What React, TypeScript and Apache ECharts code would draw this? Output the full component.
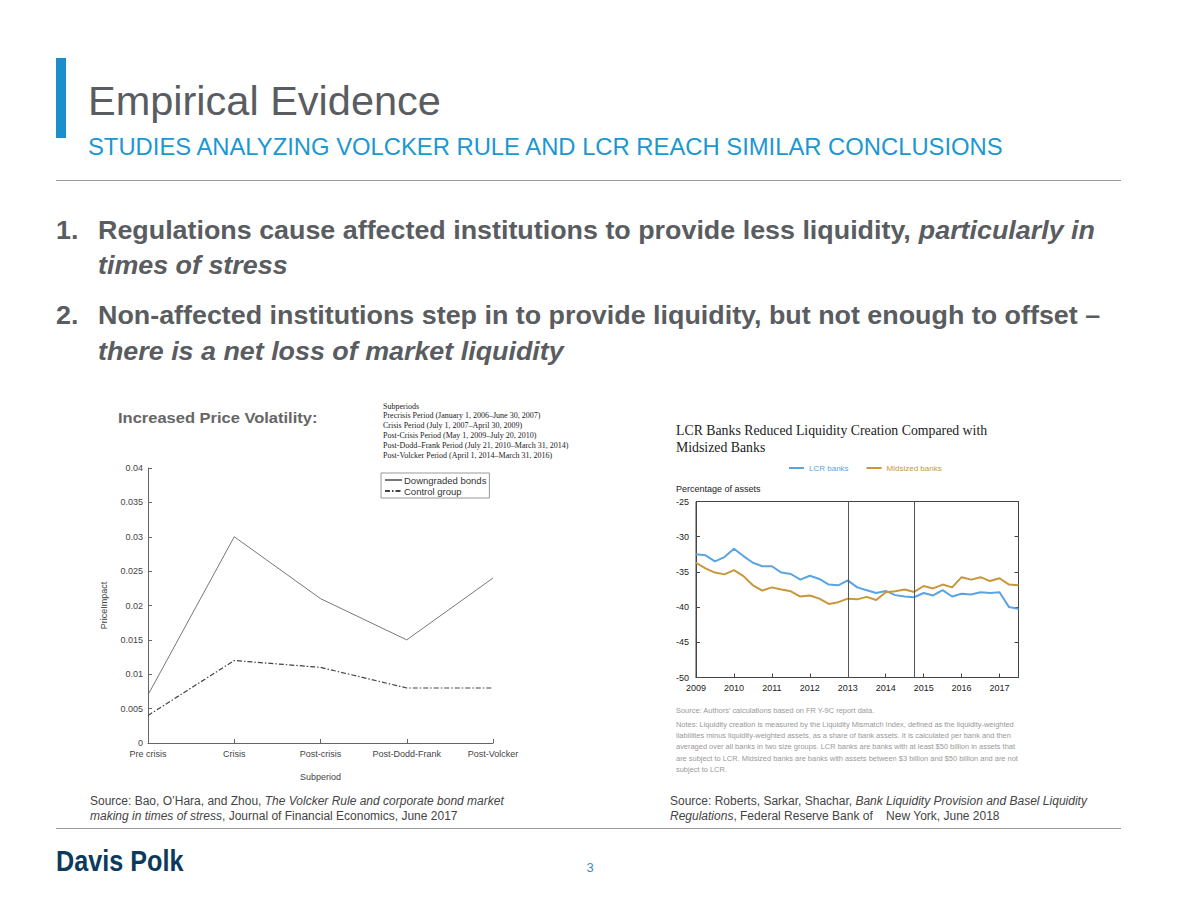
import React, { useEffect, useRef } from 'react';
import * as echarts from 'echarts';

// ---------- Left chart data ----------
const subperiods = ['Pre crisis', 'Crisis', 'Post-crisis', 'Post-Dodd-Frank', 'Post-Volcker'];
const downgradedBonds = [0.007, 0.030, 0.021, 0.015, 0.024];
const controlGroup = [0.004, 0.012, 0.011, 0.008, 0.008];
const priceTicks = { min: 0, max: 0.04, interval: 0.005 };

// ---------- Right chart data ----------
const years = ['2009', '2010', '2011', '2012', '2013', '2014', '2015', '2016', '2017'];
const quarterNames = ['Q1', 'Q2', 'Q3', 'Q4'];
const quarters: string[] = [];
years.forEach((y) => quarterNames.forEach((q) => quarters.push(y + q)));
const quarterCats = quarters.slice(0, 35);
const lcrBanks = [
  -32.5, -32.65, -33.5, -32.9, -31.7, -32.75, -33.7, -34.2, -34.2, -35.1,
  -35.3, -36.1, -35.55, -36.0, -36.8, -36.9, -36.2, -37.2, -37.6, -38.0,
  -37.7, -38.3, -38.5, -38.6, -38.0, -38.35, -37.6, -38.5, -38.1, -38.2,
  -37.9, -38.0, -37.9, -40.0, -40.25,
];
const midsizedBanks = [
  -33.7, -34.5, -35.1, -35.35, -34.75, -35.6, -36.9, -37.65, -37.2, -37.5,
  -37.75, -38.5, -38.35, -38.8, -39.55, -39.3, -38.8, -38.9, -38.55, -39.0,
  -37.9, -37.75, -37.5, -37.85, -37.0, -37.35, -36.8, -37.2, -35.75, -36.1,
  -35.75, -36.3, -35.9, -36.8, -36.9,
];
const regimeLines = ['2013Q1', '2014Q4'];
const pctTicks = { min: -50, max: -25, interval: 5 };

// ---------- Text ----------
const titleText = 'Empirical Evidence';
const subtitleText = 'STUDIES ANALYZING VOLCKER RULE AND LCR REACH SIMILAR CONCLUSIONS';
const subperiodLines = [
  'Subperiods',
  'Precrisis Period (January 1, 2006\u2013June 30, 2007)',
  'Crisis Period (July 1, 2007\u2013April 30, 2009)',
  'Post-Crisis Period (May 1, 2009\u2013July 20, 2010)',
  'Post-Dodd\u2013Frank Period (July 21, 2010\u2013March 31, 2014)',
  'Post-Volcker Period (April 1, 2014\u2013March 31, 2016)',
];
const notesLines = [
  'Notes: Liquidity creation is measured by the Liquidity Mismatch Index, defined as the liquidity-weighted',
  'liabilities minus liquidity-weighted assets, as a share of bank assets. It is calculated per bank and then',
  'averaged over all banks in two size groups. LCR banks are banks with at least $50 billion in assets that',
  'are subject to LCR. Midsized banks are banks with assets between $3 billion and $50 billion and are not',
  'subject to LCR.',
];

const SANS = '"Liberation Sans", Arial, sans-serif';
const SERIF = '"Liberation Serif", "Times New Roman", serif';
const GRAY = '#595c60';
const BLUE_HDR = '#1b97d2';
const LCR_COLOR = '#5ba4e1';
const MID_COLOR = '#c9973a';

function txt(text: string, x: number, y: number, opts: any = {}) {
  const { scaleX, ...style } = opts;
  return {
    type: 'text',
    x,
    y,
    scaleX: scaleX ?? 1,
    silent: true,
    style: {
      text,
      fontFamily: SANS,
      fontSize: 12,
      fill: '#333',
      align: 'left',
      verticalAlign: 'middle',
      textAlign: 'left',
      textVerticalAlign: 'middle',
      ...style,
    },
  };
}

function rich(text: string, x: number, y: number, richStyles: any, scaleX = 1) {
  return {
    type: 'text',
    x,
    y,
    scaleX,
    silent: true,
    style: {
      text,
      rich: richStyles,
      align: 'left',
      verticalAlign: 'middle',
      textAlign: 'left',
      textVerticalAlign: 'middle',
    },
  };
}

export default function App() {
  const ref = useRef<HTMLDivElement>(null);

  useEffect(() => {
    if (!ref.current) return;
    const chart = echarts.init(ref.current, null, { renderer: 'svg' });

    const bulletRich = {
      b: { fontFamily: SANS, fontSize: 25, fontWeight: 'bold', fill: GRAY, color: GRAY },
      bi: { fontFamily: SANS, fontSize: 25, fontWeight: 'bold', fontStyle: 'italic', fill: GRAY, color: GRAY },
    };
    const srcRich = {
      n: { fontFamily: SANS, fontSize: 12, fill: '#444', color: '#444' },
      i: { fontFamily: SANS, fontSize: 12, fontStyle: 'italic', fill: '#444', color: '#444' },
    };
    const BX = 1.075;

    const graphics: any[] = [
      { type: 'rect', shape: { x: 56, y: 58, width: 10, height: 80 }, style: { fill: '#1a8fcc' }, silent: true },
      txt(titleText, 88, 100, { fontSize: 41.5, fill: GRAY }),
      txt(subtitleText, 88, 146, { fontSize: 23.8, fill: BLUE_HDR }),
      { type: 'line', shape: { x1: 56, y1: 180.5, x2: 1121, y2: 180.5 }, style: { stroke: '#9a9a9a', lineWidth: 1 }, silent: true },
      txt('1.', 56, 230, { fontSize: 25, fontWeight: 'bold', fill: GRAY, scaleX: BX }),
      rich('{b|Regulations cause affected institutions to provide less liquidity, }{bi|particularly in}', 98, 230, bulletRich, BX),
      rich('{bi|times of stress}', 98, 265, bulletRich, BX),
      txt('2.', 56, 315, { fontSize: 25, fontWeight: 'bold', fill: GRAY, scaleX: BX }),
      rich('{b|Non-affected institutions step in to provide liquidity, but not enough to offset \u2013}', 98, 315, bulletRich, BX),
      rich('{bi|there is a net loss of market liquidity}', 98, 351, bulletRich, BX),
      // left chart header texts
      txt('Increased Price Volatility:', 118, 418, { fontSize: 15, fontWeight: 'bold', fill: '#666', scaleX: 1.1 }),
      ...subperiodLines.map((l, i) =>
        txt(l, 383, 406 + i * 9.8, { fontFamily: SERIF, fontSize: 8, fill: '#222' })
      ),
      // right chart header texts
      txt('LCR Banks Reduced Liquidity Creation Compared with', 676, 430, { fontFamily: SERIF, fontSize: 13.8, fill: '#222' }),
      txt('Midsized Banks', 676, 447, { fontFamily: SERIF, fontSize: 13.8, fill: '#222' }),
      txt('Percentage of assets', 676, 489, { fontSize: 9, fill: '#222' }),
      txt("Source: Authors' calculations based on FR Y-9C report data.", 676, 710, { fontSize: 7.45, fill: '#999' }),
      ...notesLines.map((l, i) => txt(l, 676, 724 + i * 11.4, { fontSize: 7.45, fill: '#999' })),
      // sources
      rich('{n|Source: Bao, O\u2019Hara, and Zhou, }{i|The Volcker Rule and corporate bond market}', 90, 801, srcRich),
      rich('{i|making in times of stress}{n|, Journal of Financial Economics, June 2017}', 90, 816, srcRich),
      rich('{n|Source: Roberts, Sarkar, Shachar, }{i|Bank Liquidity Provision and Basel Liquidity}', 670, 801, srcRich),
      rich('{i|Regulations}{n|, Federal Reserve Bank of    New York, June 2018}', 670, 816, srcRich),
      { type: 'line', shape: { x1: 56, y1: 828.5, x2: 1121, y2: 828.5 }, style: { stroke: '#9a9a9a', lineWidth: 1 }, silent: true },
      txt('Davis Polk', 56, 861, { fontSize: 30, fontWeight: 'bold', fill: '#0c3a5d', scaleX: 0.84 }),
      txt('3', 590, 867, { fontSize: 13, fill: '#3a8fc7', align: 'center', textAlign: 'center' }),
    ];

    const option: any = {
      animation: false,
      backgroundColor: '#ffffff',
      textStyle: { fontFamily: SANS },
      grid: [
        { left: 148, top: 468, width: 345, height: 275, containLabel: false },
        { left: 696, top: 501.5, width: 322.5, height: 176, show: true, borderColor: '#444', borderWidth: 1, containLabel: false },
      ],
      legend: [
        {
          data: ['Downgraded bonds', 'Control group'],
          orient: 'vertical',
          left: 381,
          top: 473,
          borderColor: '#999',
          borderWidth: 1,
          padding: [2, 3, 2, 3],
          itemGap: 1,
          itemWidth: 17,
          itemHeight: 8,
          itemStyle: { opacity: 0 },
          textStyle: { fontSize: 9.5, color: '#333', fontFamily: SANS, padding: [0, 0, 0, -3] },
          selectedMode: false,
        },
        {
          data: [
            { name: 'LCR banks', textStyle: { color: LCR_COLOR } },
            { name: 'Midsized banks', textStyle: { color: MID_COLOR } },
          ],
          left: 784,
          top: 459,
          itemWidth: 15,
          itemHeight: 2,
          icon: 'rect',
          itemGap: 18,
          textStyle: { fontSize: 8, fontFamily: SANS },
          selectedMode: false,
        },
      ],
      xAxis: [
        {
          type: 'category',
          gridIndex: 0,
          data: subperiods,
          boundaryGap: false,
          axisLine: { lineStyle: { color: '#666', width: 1 } },
          axisTick: { inside: true, length: 4, lineStyle: { color: '#666' } },
          axisLabel: { interval: 0, fontSize: 9, color: '#444', margin: 6 },
          name: 'Subperiod',
          nameLocation: 'middle',
          nameGap: 29,
          nameTextStyle: { fontSize: 9, color: '#444' },
          splitLine: { show: false },
        },
        {
          type: 'category',
          gridIndex: 1,
          data: quarterCats,
          boundaryGap: false,
          axisLine: { lineStyle: { color: '#444', width: 1 } },
          axisTick: { inside: true, length: 4, interval: 3, lineStyle: { color: '#444' } },
          axisLabel: {
            interval: 3,
            fontSize: 9,
            color: '#222',
            margin: 6,
            formatter: (v: string) => v.slice(0, 4),
          },
          splitLine: { show: false },
        },
      ],
      yAxis: [
        {
          type: 'value',
          gridIndex: 0,
          min: priceTicks.min,
          max: priceTicks.max,
          interval: priceTicks.interval,
          axisLine: { show: true, lineStyle: { color: '#666', width: 1 } },
          axisTick: { show: true, inside: true, length: 4, lineStyle: { color: '#666' } },
          axisLabel: { fontSize: 9, color: '#444', margin: 5 },
          splitLine: { show: false },
          name: 'PriceImpact',
          nameLocation: 'middle',
          nameGap: 40,
          nameRotate: 90,
          nameTextStyle: { fontSize: 9, color: '#444' },
        },
        {
          type: 'value',
          gridIndex: 1,
          min: pctTicks.min,
          max: pctTicks.max,
          interval: pctTicks.interval,
          axisLine: { show: true, lineStyle: { color: '#444', width: 1 } },
          axisTick: { show: true, inside: true, length: 4, lineStyle: { color: '#444' } },
          axisLabel: { fontSize: 9, color: '#222', margin: 7 },
          splitLine: { show: false },
        },
        {
          type: 'value',
          gridIndex: 1,
          position: 'right',
          min: pctTicks.min,
          max: pctTicks.max,
          interval: pctTicks.interval,
          axisLine: { show: true, lineStyle: { color: '#444', width: 1 } },
          axisTick: { show: true, inside: true, length: 4, lineStyle: { color: '#444' } },
          axisLabel: { show: false },
          splitLine: { show: false },
        },
      ],
      series: [
        {
          name: 'Downgraded bonds',
          type: 'line',
          xAxisIndex: 0,
          yAxisIndex: 0,
          data: downgradedBonds,
          symbol: 'none',
          color: '#333',
          lineStyle: { color: '#777', width: 1 },
        },
        {
          name: 'Control group',
          type: 'line',
          xAxisIndex: 0,
          yAxisIndex: 0,
          data: controlGroup,
          symbol: 'none',
          color: '#333',
          lineStyle: { color: '#444', width: 1.2, type: [5, 2, 1.5, 2] },
        },
        {
          name: 'LCR banks',
          type: 'line',
          xAxisIndex: 1,
          yAxisIndex: 1,
          data: lcrBanks,
          symbol: 'none',
          color: LCR_COLOR,
          lineStyle: { color: LCR_COLOR, width: 2 },
          markLine: {
            silent: true,
            symbol: 'none',
            label: { show: false },
            lineStyle: { color: '#555', width: 1, type: 'solid' },
            data: regimeLines.map((q) => ({ xAxis: q })),
          },
        },
        {
          name: 'Midsized banks',
          type: 'line',
          xAxisIndex: 1,
          yAxisIndex: 1,
          data: midsizedBanks,
          symbol: 'none',
          color: MID_COLOR,
          lineStyle: { color: MID_COLOR, width: 2 },
        },
      ],
      graphic: graphics,
    };

    chart.setOption(option);
    return () => chart.dispose();
  }, []);

  return (
    <div
      ref={ref}
      style={{ position: 'absolute', left: 0, top: 0, width: 1177, height: 911, background: '#fff' }}
    />
  );
}
